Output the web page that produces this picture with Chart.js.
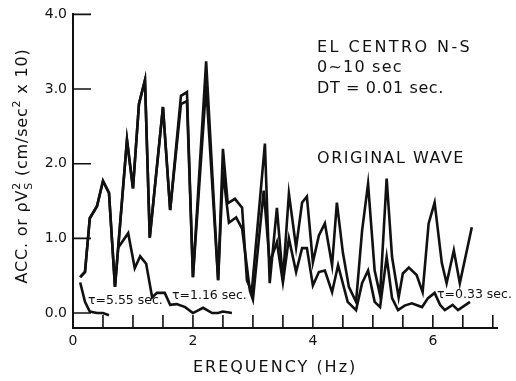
<!DOCTYPE html>
<html><head><meta charset="utf-8">
<script src="https://cdn.jsdelivr.net/npm/chart.js@4.4.1/dist/chart.umd.min.js"></script>
<style>html,body{margin:0;padding:0;background:#fff}</style>
</head><body>
<canvas id="c" width="516" height="381"></canvas>
<script>
// ---- data (frequency in Hz, value in cm/sec^2 x 10) ----
const freqOriginal = [0.12,0.2,0.28,0.4,0.5,0.6,0.7,0.9,1.0,1.1,1.2,1.28,1.5,1.62,1.8,1.9,2.0,2.22,2.42,2.5,2.58,2.7,2.82,2.9,2.98,3.2,3.28,3.4,3.5,3.6,3.72,3.82,3.9,4.0,4.1,4.2,4.32,4.4,4.5,4.6,4.72,4.82,4.92,5.03,5.12,5.23,5.32,5.43,5.5,5.6,5.73,5.83,5.93,6.03,6.15,6.23,6.35,6.45,6.65];
const accOriginal  = [0.48,0.55,1.27,1.43,1.77,1.61,0.35,2.32,1.67,2.8,3.12,1.01,2.76,1.38,2.91,2.96,0.48,3.37,0.44,2.2,1.47,1.53,1.41,0.44,0.28,2.27,0.4,1.41,0.44,1.6,0.88,1.48,1.56,0.68,1.04,1.2,0.64,1.48,0.81,0.35,0.15,1.1,1.73,0.57,0.24,1.8,0.75,0.21,0.53,0.61,0.51,0.28,1.2,1.48,0.67,0.4,0.84,0.4,1.15];

const freqTau033 = [0.12,0.2,0.28,0.4,0.5,0.6,0.7,0.9,1.0,1.1,1.2,1.28,1.5,1.62,1.8,1.9,2.0,2.22,2.42,2.5,2.6,2.72,2.82,2.95,3.0,3.18,3.28,3.4,3.5,3.6,3.72,3.82,3.9,4.0,4.1,4.2,4.32,4.42,4.58,4.72,4.82,4.92,5.03,5.12,5.23,5.32,5.42,5.53,5.65,5.82,5.92,6.03,6.12,6.2,6.33,6.42,6.62];
const accTau033  = [0.48,0.55,1.27,1.43,1.77,1.61,0.35,2.32,1.67,2.8,3.12,1.01,2.76,1.38,2.8,2.84,0.48,3.05,0.44,1.9,1.21,1.28,1.13,0.3,0.18,1.64,0.67,0.95,0.41,1.0,0.55,0.87,0.87,0.37,0.55,0.57,0.28,0.64,0.15,0.04,0.4,0.57,0.15,0.08,0.75,0.2,0.04,0.1,0.13,0.08,0.2,0.27,0.11,0.04,0.11,0.04,0.15];

const freqTau116 = [0.75,0.92,1.03,1.12,1.22,1.32,1.4,1.53,1.62,1.73,1.87,2.0,2.17,2.32,2.42,2.5,2.65];
const accTau116  = [0.87,1.07,0.6,0.76,0.66,0.21,0.27,0.27,0.11,0.12,0.08,0.0,0.07,0.0,0.0,0.02,0.0];

const freqTau555 = [0.12,0.2,0.28,0.4,0.5,0.6];
const accTau555  = [0.41,0.15,0.02,0.0,0.0,-0.03];

const yTickValues = [0,1,2,3,4];
const yTickLabels = ['0.0','1.0','2.0','3.0','4.0'];
const xTickValues = [0,0.5,1,1.5,2,2.5,3,3.5,4,4.5,5,5.5,6,6.5,7];
const xTickLabels = {0:'0',2:'2',4:'4',6:'6'};

// annotation texts anchored in data units
const notes = [
  {text:'EL CENTRO N-S', f:4.07, v:3.55, size:16, sp:2.4},
  {text:'0~10 sec',      f:4.07, v:3.28, size:16, sp:1.2},
  {text:'DT = 0.01 sec.',f:4.07, v:3.00, size:16, sp:0.6},
  {text:'ORIGINAL WAVE', f:4.07, v:2.07, size:16, sp:1.5},
  {text:'τ=5.55 sec.',   f:0.25, v:0.17, size:12.5, sp:0},
  {text:'τ=1.16 sec.',   f:1.65, v:0.23, size:12.5, sp:0},
  {text:'τ=0.33 sec.',   f:6.07, v:0.24, size:12.5, sp:0}
];

const FONT = '"DejaVu Sans", sans-serif';
const INK = '#111';

function pts(fs, vs){ return fs.map((f,i)=>({x:f, y:vs[i]})); }
function ds(label, fs, vs){
  return {label, data: pts(fs, vs), showLine:true, borderColor:INK, backgroundColor:INK,
          borderWidth:2.6, pointRadius:0, tension:0, borderJoinStyle:'miter'};
}

const decor = {
  id:'decor',
  afterDraw(chart){
    const ctx = chart.ctx, xs = chart.scales.x, ys = chart.scales.y;
    ctx.save();
    // inward tick marks
    ctx.strokeStyle = INK; ctx.lineWidth = 1.6;
    ctx.beginPath();
    const x0 = xs.left, y0 = ys.bottom;
    yTickValues.forEach(v=>{ const py = ys.getPixelForValue(v); ctx.moveTo(x0, py); ctx.lineTo(x0+18, py); });
    xTickValues.forEach(v=>{ if (v===0) return; const px = xs.getPixelForValue(v); ctx.moveTo(px, y0); ctx.lineTo(px, y0-13); });
    ctx.stroke();
    // notes
    ctx.fillStyle = INK; ctx.textBaseline = 'middle'; ctx.textAlign = 'left';
    notes.forEach(n=>{
      ctx.font = n.size + 'px ' + FONT;
      ctx.letterSpacing = n.sp + 'px';
      ctx.fillText(n.text, xs.getPixelForValue(n.f), ys.getPixelForValue(n.v));
    });
    // x title
    ctx.font = '16px ' + FONT; ctx.letterSpacing = '2px'; ctx.textAlign = 'center';
    ctx.fillText('EREQUENCY (Hz)', xs.getPixelForValue(3.37), ys.bottom + 40);
    // y title (rotated), with stacked sup/sub
    ctx.translate(23, 166);
    ctx.rotate(-Math.PI/2);
    ctx.textAlign = 'left'; ctx.textBaseline = 'middle';
    const segs = [
      {t:'ACC. or ρV', s:16},
      {t:'2', s:11, dy:-6, stack:true},
      {t:'S', s:11, dy:6},
      {t:' (cm/sec', s:16},
      {t:'2', s:11, dy:-6},
      {t:' x 10)', s:16}
    ];
    ctx.letterSpacing = '0.8px';
    let w = 0;
    segs.forEach(sg=>{ ctx.font = sg.s+'px '+FONT; if(!sg.stack) w += ctx.measureText(sg.t).width; });
    let x = -w/2;
    segs.forEach(sg=>{
      ctx.font = sg.s+'px '+FONT;
      ctx.fillText(sg.t, x, sg.dy||0);
      if (!sg.stack) x += ctx.measureText(sg.t).width;
    });
    ctx.restore();
  }
};

new Chart(document.getElementById('c'), {
  type:'scatter',
  data:{ datasets:[
    ds('Original wave', freqOriginal, accOriginal),
    ds('τ=0.33 sec.', freqTau033, accTau033),
    ds('τ=1.16 sec.', freqTau116, accTau116),
    ds('τ=5.55 sec.', freqTau555, accTau555)
  ]},
  options:{
    responsive:false, animation:false, devicePixelRatio:1,
    layout:{padding:{left:0, top:13, right:19, bottom:0}},
    plugins:{legend:{display:false}, tooltip:{enabled:false}},
    scales:{
      x:{type:'linear', position:'bottom', min:0, max:7.07,
         grid:{display:false, drawTicks:false},
         border:{display:true, color:INK, width:2},
         afterBuildTicks: s=>{ s.ticks = xTickValues.map(v=>({value:v})); },
         afterFit: s=>{ s.height = 53; },
         ticks:{autoSkip:false, maxRotation:0, padding:5, color:INK, font:{family:FONT, size:14},
                callback: v => (xTickLabels[v] !== undefined ? xTickLabels[v] : '')}},
      y:{type:'linear', position:'left', min:-0.2, max:4.0,
         grid:{display:false, drawTicks:false},
         border:{display:true, color:INK, width:2},
         afterBuildTicks: s=>{ s.ticks = yTickValues.map(v=>({value:v})); },
         afterFit: s=>{ s.width = 73; },
         ticks:{padding:6, color:INK, font:{family:FONT, size:14},
                callback: v => { const i = yTickValues.indexOf(v); return i>=0 ? yTickLabels[i] : ''; }}}
    }
  },
  plugins:[decor]
});
</script>
</body></html>
